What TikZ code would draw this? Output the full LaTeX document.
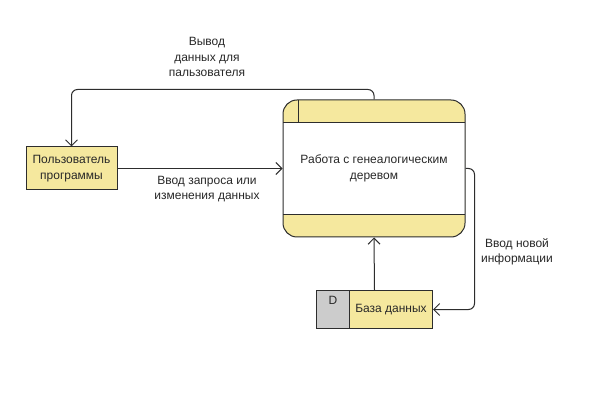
\documentclass[tikz,border=0pt]{standalone}
\usepackage{fontspec}
\setmainfont{Liberation Sans}
\usetikzlibrary{arrows.meta,calc}
\definecolor{yellowc}{RGB}{245,232,158}
\definecolor{grayc}{RGB}{204,204,204}
\definecolor{strokec}{RGB}{45,45,45}
\definecolor{textc}{RGB}{40,40,40}
\tikzset{
  base/.style={draw=strokec, line width=1pt, inner sep=0pt, text=textc, align=center,
    font=\fontsize{12}{15.5}\selectfont},
  boxy/.style={base, fill=yellowc},
  arr/.style={draw=strokec, line width=1pt, -{Straight Barb[length=6pt,width=12pt]}},
  lbl/.style={text=textc, align=center, font=\fontsize{12}{15.5}\selectfont}
}
\begin{document}
\begin{tikzpicture}[x=1pt,y=-1pt]
\useasboundingbox[fill=white] (0,0) rectangle (600,406);
% process background
\fill[yellowc, rounded corners=14pt] (283,100) rectangle (465,237);
\fill[white] (283,123) rectangle (465,215);
\draw[strokec, line width=1pt] (283,123) -- (465,123);
\draw[strokec, line width=1pt] (283,215) -- (465,215);
\draw[strokec, line width=1pt] (298,100) -- (298,123);
\node[base, rounded corners=14pt, minimum width=182pt, minimum height=137pt] (proc) at (374,168.5)
  {Работа с генеалогическим\\деревом};
% user
\node[boxy, minimum width=91pt, minimum height=43pt] (user) at (71.5,168.5) {Пользователь\\программы};
% database
\node[base, fill=grayc, minimum width=33pt, minimum height=38pt, anchor=north west] (dbd) at (316,290) {};
\node[lbl, anchor=north] (dbletter) at ($(dbd.north)+(0,3)$) {D};
\node[boxy, minimum width=83pt, minimum height=38pt, anchor=north west] (db) at (349,290) {База данных};
\coordinate (dbtop) at ($(dbd.north west)!0.5!(db.north east)$);
% connectors
\draw[arr] (user.east) -- (proc.west);
\draw[arr, rounded corners=6pt] (proc.north) -- ++(0,-10) -| (user.north);
\draw[arr] (dbtop) -- (proc.south);
\draw[arr, rounded corners=6pt] (proc.east) -- ++(9,0) |- (db.east);
% labels
\node[lbl] (l1) at (207,57) {Вывод\\данных для\\пальзователя};
\node[lbl] (l2) at (207,189) {Ввод запроса или\\изменения данных};
\node[lbl] (l3) at (517,252) {Ввод новой\\информации};
\end{tikzpicture}
\end{document}
